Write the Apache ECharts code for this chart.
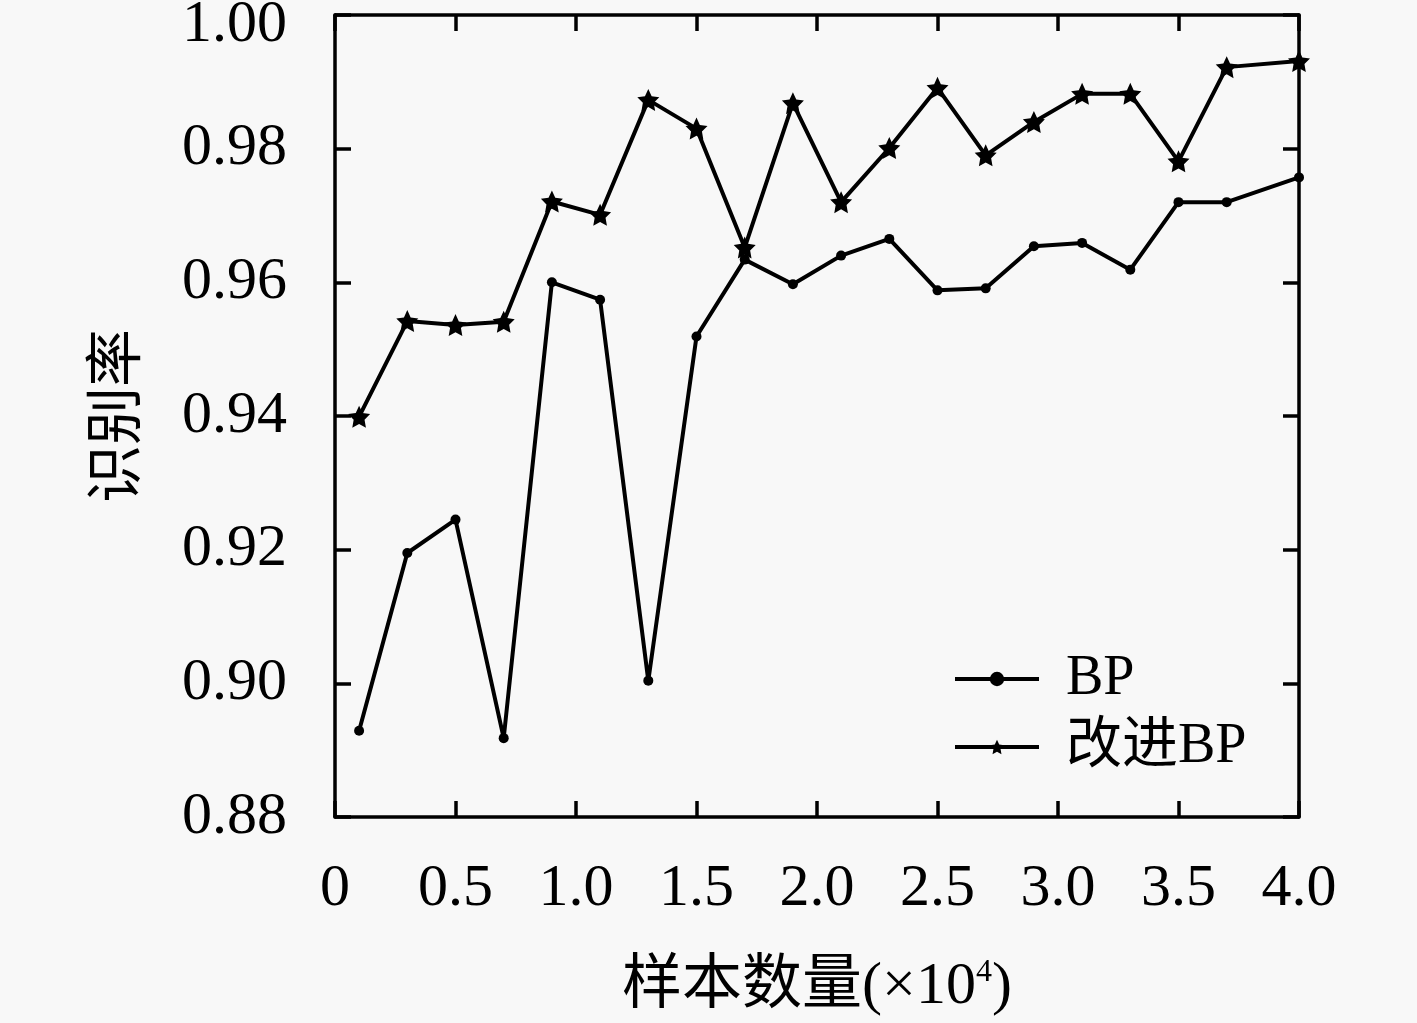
<!DOCTYPE html>
<html>
<head>
<meta charset="utf-8">
<script src="https://cdn.jsdelivr.net/npm/echarts@6/dist/echarts.min.js"></script>
<style>
html,body{margin:0;padding:0;background:#f8f8f8;}
#chart{width:1417px;height:1023px;}
</style>
</head>
<body>
<div id="chart"></div>
<script>
const xValues = [0.1, 0.3, 0.5, 0.7, 0.9, 1.1, 1.3, 1.5, 1.7, 1.9, 2.1, 2.3, 2.5, 2.7, 2.9, 3.1, 3.3, 3.5, 3.7, 4.0];
const bpValues = [0.8929, 0.9195, 0.9245, 0.8918, 0.9600, 0.9574, 0.9004, 0.9519, 0.9634, 0.9597, 0.9640, 0.9665, 0.9588, 0.9591, 0.9654, 0.9659, 0.9619, 0.9720, 0.9720, 0.9757];
const improvedValues = [0.9399, 0.9542, 0.9536, 0.9541, 0.9721, 0.9701, 0.9873, 0.9830, 0.9652, 0.9868, 0.9720, 0.9801, 0.9891, 0.9790, 0.9840, 0.9882, 0.9882, 0.9781, 0.9922, 0.9931];
const seriesNames = ['BP', '改进BP'];
const xAxisName = '样本数量(×10{sup|4})';
const yAxisName = '识别率';

const serif = '"Liberation Serif", "Noto Sans CJK SC", serif';
const starPath = 'path://M0,-10 L2.9,-4 L9.5,-3.1 L4.7,1.5 L5.9,8.1 L0,5 L-5.9,8.1 L-4.7,1.5 L-9.5,-3.1 L-2.9,-4 Z';

const chart = echarts.init(document.getElementById('chart'));
function axLine() { return {show: true, onZero: false, lineStyle: {color: '#000', width: 3.5}}; }
function axTick() { return {show: true, inside: true, length: 16, lineStyle: {color: '#000', width: 3.5}}; }

chart.setOption({
  backgroundColor: '#f8f8f8',
  animation: false,
  grid: {left: 335, right: 118, top: 15, bottom: 206, containLabel: false, outerBoundsMode: 'none'},
  legend: {
    orient: 'vertical',
    left: 948,
    top: 646,
    itemWidth: 84,
    itemHeight: 18,
    itemGap: 12,
    lineStyle: {width: 4},
    textStyle: {fontFamily: serif, fontSize: 56, color: '#000', padding: [0, 0, 0, 22]},
    data: seriesNames
  },
  xAxis: [{
    type: 'value', min: 0, max: 4, interval: 0.5,
    axisLine: axLine(), axisTick: axTick(), splitLine: {show: false},
    axisLabel: {
      color: '#000', fontFamily: serif, fontSize: 60, margin: 42,
      formatter: v => v === 0 ? '0' : v.toFixed(1)
    },
    name: xAxisName, nameLocation: 'middle', nameGap: 140,
    nameTextStyle: {
      color: '#000', fontFamily: serif, fontSize: 60,
      rich: {sup: {fontSize: 32, fontFamily: serif, color: '#000', verticalAlign: 'top', padding: [0, 0, 26, 0]}}
    }
  }, {
    type: 'value', min: 0, max: 4, interval: 0.5, position: 'top',
    axisLine: axLine(), axisTick: axTick(), axisLabel: {show: false}, splitLine: {show: false}
  }],
  yAxis: [{
    type: 'value', min: 0.88, max: 1.0, interval: 0.02,
    axisLine: axLine(), axisTick: axTick(), splitLine: {show: false},
    axisLabel: {
      color: '#000', fontFamily: serif, fontSize: 60, margin: 48,
      formatter: v => v > 0.999 ? '{top|' + v.toFixed(2) + '}' : v.toFixed(2),
      rich: {top: {fontFamily: serif, fontSize: 60, color: '#000', padding: [20, 0, 0, 0]}}
    },
    name: yAxisName, nameLocation: 'middle', nameGap: 186, nameRotate: 90,
    nameTextStyle: {color: '#000', fontFamily: serif, fontSize: 58}
  }, {
    type: 'value', min: 0.88, max: 1.0, interval: 0.02, position: 'right',
    axisLine: axLine(), axisTick: axTick(), axisLabel: {show: false}, splitLine: {show: false}
  }],
  series: [{
    name: seriesNames[0], type: 'line',
    data: xValues.map((x, i) => [x, bpValues[i]]),
    symbol: 'circle', symbolSize: 10,
    lineStyle: {color: '#000', width: 4},
    itemStyle: {color: '#000'}
  }, {
    name: seriesNames[1], type: 'line',
    data: xValues.map((x, i) => [x, improvedValues[i]]),
    symbol: starPath, symbolSize: 22,
    lineStyle: {color: '#000', width: 4},
    itemStyle: {color: '#000'}
  }]
});
</script>
</body>
</html>
